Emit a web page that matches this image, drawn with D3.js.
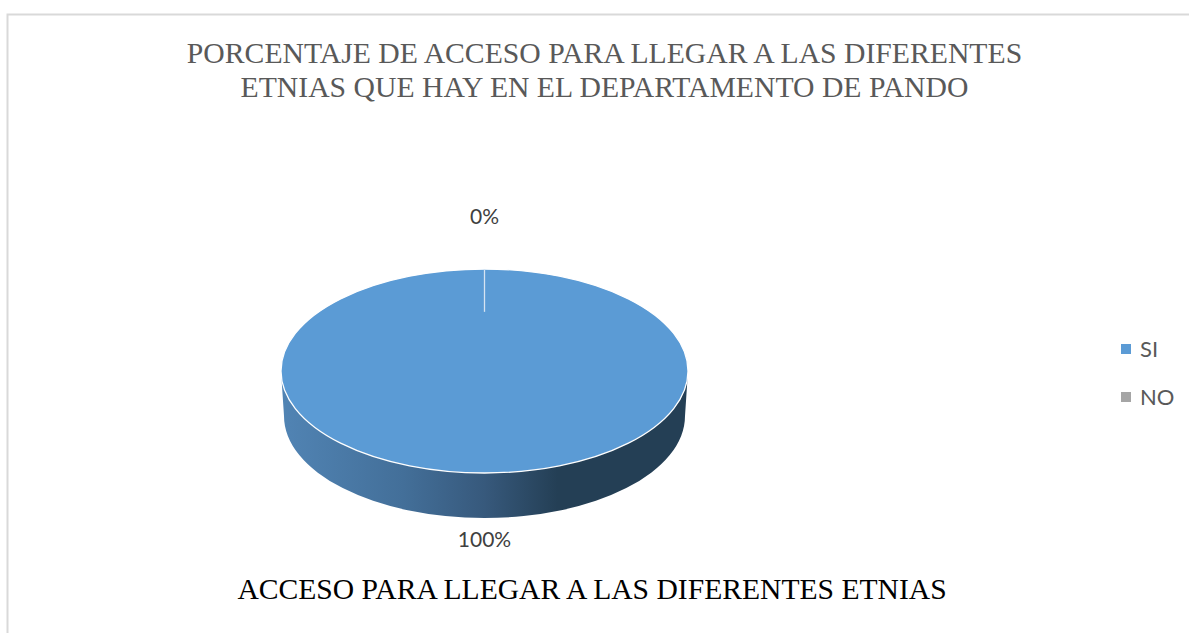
<!DOCTYPE html>
<html>
<head>
<meta charset="utf-8">
<script src="https://cdn.jsdelivr.net/npm/d3@7"></script>
<style>
  html, body { margin: 0; padding: 0; background: #fff; }
  svg { display: block; }
</style>
</head>
<body>
<div id="chart"></div>
<script>
const categories = ['SI', 'NO'];
const values = [100, 0];
const valueLabels = ['100%', '0%'];
const colors = ['#5b9bd5', '#a5a5a5'];
const titleLines = [
  'PORCENTAJE DE ACCESO PARA LLEGAR A LAS DIFERENTES',
  'ETNIAS QUE HAY EN EL DEPARTAMENTO DE PANDO',
];
const axisTitle = 'ACCESO PARA LLEGAR A LAS DIFERENTES ETNIAS';

const width = 1189;
const height = 633;
const cx = 484.5;
const cy = 371;
const rx = 203.5;
const ry = 102;
const depth = 45;
const serif = '"Liberation Serif", serif';
const sans = 'Lato, sans-serif';

const svg = d3.select('#chart').append('svg').attr('width', width).attr('height', height);

// frame only shows on top and left in the source
svg.append('path')
  .attr('d', `M7.5,${height}V14.5H${width}`)
  .attr('fill', 'none').attr('stroke', '#d9d9d9').attr('stroke-width', 2);

svg.append('g').selectAll('text').data(titleLines).join('text')
  .attr('x', 604.5).attr('y', (d, i) => 63 + i * 34)
  .attr('text-anchor', 'middle').attr('font-family', serif).attr('font-size', 29.7)
  .attr('fill', '#595959').text((d) => d);

const grad = svg.append('defs').append('linearGradient')
  .attr('id', 'side').attr('gradientUnits', 'userSpaceOnUse')
  .attr('x1', cx - rx).attr('x2', cx + rx).attr('y1', 0).attr('y2', 0);
[[0, '#5184b4'], [0.3, '#436f99'], [0.5, '#37597c'], [0.68, '#243f55'], [1, '#243f55']]
  .forEach(([o, c]) => grad.append('stop').attr('offset', o).attr('stop-color', c));

// side wall, slightly narrower at the bottom
const rxBottom = rx - 3;
svg.append('path')
  .attr('d', `M${cx - rx},${cy}L${cx - rxBottom},${cy + depth}`
    + `A${rxBottom},${ry},0,0,0,${cx + rxBottom},${cy + depth}L${cx + rx},${cy}Z`)
  .attr('fill', 'url(#side)');

// top face: d3.arc on a unit radius, squashed to an ellipse
const pie = d3.pie().sort(null).value((d) => d);
const arcs = pie(values);
const arc = d3.arc().innerRadius(0).outerRadius(1);
const rim = d3.arc().innerRadius(1).outerRadius(1);
const face = svg.append('g').attr('transform', `translate(${cx},${cy}) scale(${rx},${ry})`);
face.selectAll('path.slice').data(arcs).join('path')
  .attr('class', 'slice')
  .attr('d', arc)
  .attr('fill', (d, i) => colors[i]);
// white rim only, so the stroke doesn't run along the radius to the centre
face.selectAll('path.rim').data(arcs).join('path')
  .attr('class', 'rim')
  .attr('d', rim)
  .attr('fill', 'none')
  .attr('stroke', '#fff').attr('stroke-width', 1.3)
  .attr('vector-effect', 'non-scaling-stroke');

// slice boundary at 12 o'clock, stops short of the centre
const sepInner = 0.58;
svg.append('line')
  .attr('x1', cx).attr('x2', cx)
  .attr('y1', cy - ry).attr('y2', cy - ry * sepInner)
  .attr('stroke', '#d6e4f2').attr('stroke-width', 1.3);

const labelY = [547, 224];
svg.append('g').selectAll('text').data(valueLabels).join('text')
  .attr('x', cx).attr('y', (d, i) => labelY[i])
  .attr('text-anchor', 'middle').attr('font-family', sans).attr('font-size', 21)
  .attr('fill', '#404040').text((d) => d);

svg.append('text')
  .attr('x', 592).attr('y', 599)
  .attr('text-anchor', 'middle').attr('font-family', serif).attr('font-size', 29.6)
  .attr('fill', '#000').text(axisTitle);

const legendY = d3.scaleBand().domain(categories).range([325, 421]);
const legend = svg.append('g').selectAll('g').data(categories).join('g')
  .attr('transform', (d) => `translate(1121,${legendY(d) + legendY.bandwidth() / 2})`);
legend.append('rect')
  .attr('x', 0).attr('y', -5).attr('width', 10).attr('height', 10)
  .attr('fill', (d, i) => colors[i]);
legend.append('text')
  .attr('x', 19).attr('y', 8)
  .attr('font-family', sans).attr('font-size', 22)
  .attr('fill', '#595959').text((d) => d);
</script>
</body>
</html>
